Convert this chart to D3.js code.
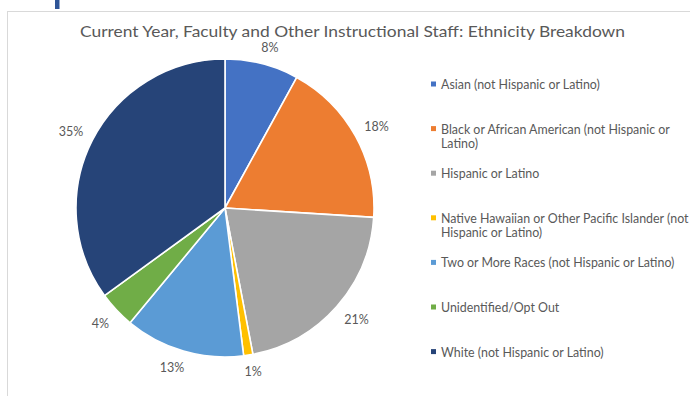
<!DOCTYPE html>
<html>
<head>
<meta charset="utf-8">
<script src="https://cdn.jsdelivr.net/npm/d3@7/dist/d3.min.js"></script>
<style>
  html, body { margin: 0; padding: 0; background: #fff; }
  svg { display: block; }
  text { font-family: Lato, "Noto Sans", sans-serif; fill: #595959; }
</style>
</head>
<body>
<svg id="chart" width="691" height="396"></svg>
<script>
// Faculty and other instructional staff, share by ethnicity (percent)
const categories = [
  "Asian (not Hispanic or Latino)",
  "Black or African American (not Hispanic or Latino)",
  "Hispanic or Latino",
  "Native Hawaiian or Other Pacific Islander (not Hispanic or Latino)",
  "Two or More Races (not Hispanic or Latino)",
  "Unidentified/Opt Out",
  "White (not Hispanic or Latino)"
];
const shares = [8, 18, 21, 1, 13, 4, 35];
const sliceColors = ["#4472C4", "#ED7D31", "#A5A5A5", "#FFC000", "#5B9BD5", "#70AD47", "#264478"];
const chartTitle = "Current Year, Faculty and Other Instructional Staff: Ethnicity Breakdown";

const svg = d3.select("#chart");
const W = 691, H = 396;

// Chart frame and the edge of the page heading above it
svg.append("rect").attr("x", 55).attr("y", 0).attr("width", 4.5).attr("height", 9).attr("fill", "#2E5597");
svg.append("line").attr("x1", 7).attr("x2", 690).attr("y1", 11.5).attr("y2", 11.5)
  .attr("stroke", "#d9d9d9").attr("stroke-width", 1);
svg.append("line").attr("x1", 7.5).attr("x2", 7.5).attr("y1", 11).attr("y2", H)
  .attr("stroke", "#d9d9d9").attr("stroke-width", 1);

// Title, fitted to its width
svg.append("text")
  .attr("x", 352.5).attr("y", 36.5)
  .attr("text-anchor", "middle")
  .style("font-size", "16px")
  .attr("textLength", 545).attr("lengthAdjust", "spacingAndGlyphs")
  .text(chartTitle);

// Pie
const cx = 225, cy = 208, r = 149;
const pie = d3.pie().sort(null).value(d => d)(shares);
const arc = d3.arc().innerRadius(0).outerRadius(r);
const g = svg.append("g").attr("transform", `translate(${cx},${cy})`);

g.selectAll("path.slice")
  .data(pie)
  .join("path")
  .attr("class", "slice")
  .attr("d", arc)
  .attr("fill", (d, i) => sliceColors[i])
  .attr("stroke", "#fff")
  .attr("stroke-width", 1.6)
  .attr("stroke-linejoin", "round");

// Outside-end percent labels: anchored just past the rim on the mid-angle,
// with the label box pushed away from the pie
const labelSize = 12.5;
const clamp = v => Math.max(-1, Math.min(1, v));
g.selectAll("text.pct")
  .data(pie)
  .join("text")
  .attr("class", "pct")
  .style("font-size", labelSize + "px")
  .attr("text-anchor", "middle")
  .attr("dominant-baseline", "central")
  .text(d => d.data + "%")
  .each(function(d) {
    const w = this.getComputedTextLength();
    const h = 13;
    const a = (d.startAngle + d.endAngle) / 2;
    const s = Math.sin(a), c = Math.cos(a);
    const R0 = r + 10;
    const x = R0 * s + (w / 2) * clamp(2.5 * s);
    const y = -R0 * c - (h / 2) * clamp(1.5 * c);
    d3.select(this).attr("x", x).attr("y", y);
  });

// Legend
const legendX = 431, textX = 441, wrapWidth = 250;
const legendTop = 84, legendStep = 44.6, lineGap = 14.5;
const legend = svg.append("g");

// size the legend font so the first entry spans its usual width
const probe = legend.append("text").style("font-size", "10px").text(categories[0]);
const legendSize = 10 * 159 / probe.node().getComputedTextLength();
probe.remove();

categories.forEach((name, i) => {
  const y0 = legendTop + i * legendStep;
  legend.append("rect")
    .attr("x", legendX).attr("y", y0 - 2.5)
    .attr("width", 5).attr("height", 5)
    .attr("fill", sliceColors[i]);

  const t = legend.append("text")
    .attr("x", textX).attr("y", y0)
    .attr("dominant-baseline", "central")
    .style("font-size", legendSize + "px");

  // word wrap into lines no wider than wrapWidth
  const words = name.split(" ");
  let line = [], lineNo = 0;
  let tspan = t.append("tspan").attr("x", textX).attr("y", y0);
  words.forEach(word => {
    line.push(word);
    tspan.text(line.join(" "));
    if (tspan.node().getComputedTextLength() > wrapWidth && line.length > 1) {
      line.pop();
      tspan.text(line.join(" "));
      line = [word];
      lineNo++;
      tspan = t.append("tspan").attr("x", textX).attr("y", y0 + lineNo * lineGap).text(word);
    }
  });
});
</script>
</body>
</html>
